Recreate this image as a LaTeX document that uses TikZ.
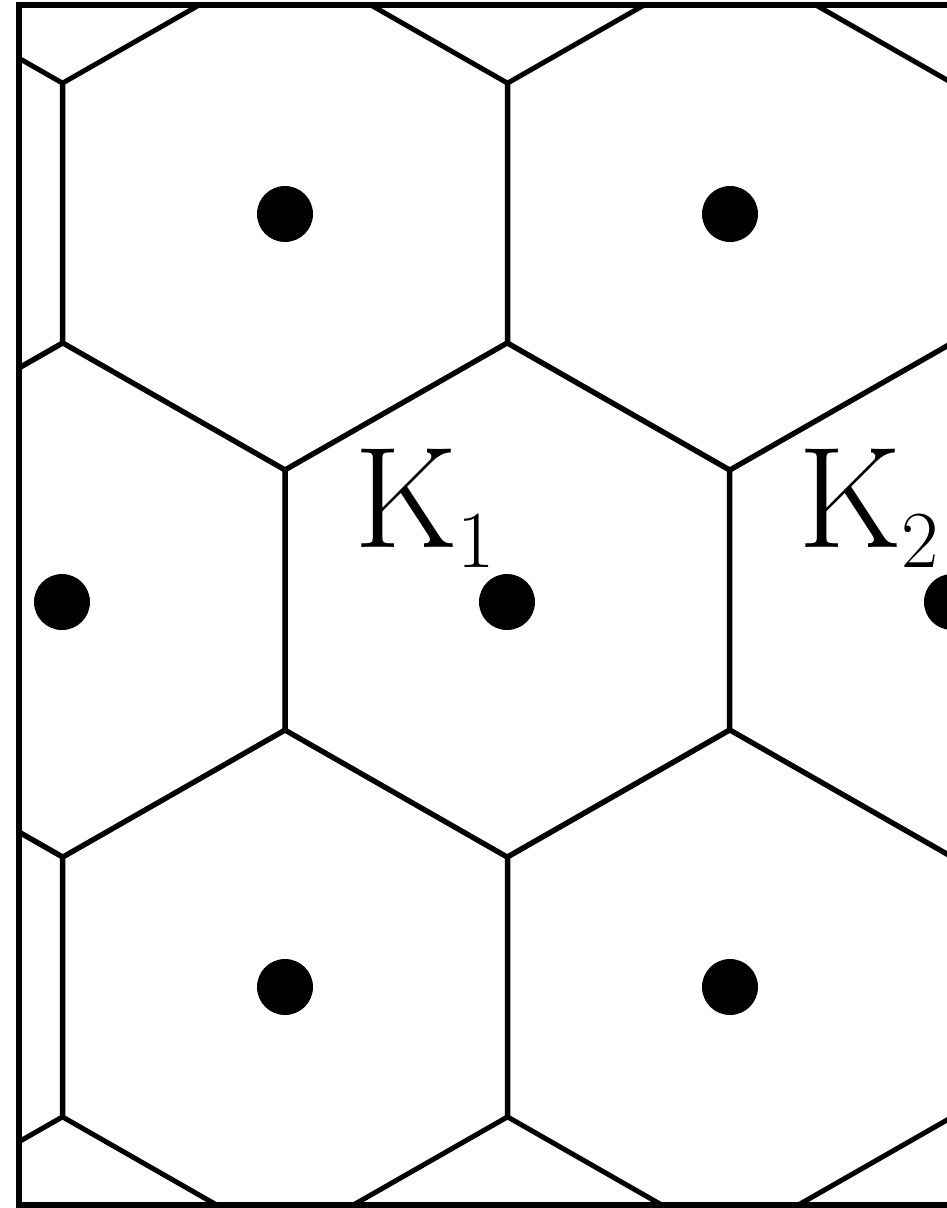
\documentclass[tikz,border=0pt]{standalone}
\begin{document}
\begin{tikzpicture}[x=1pt,y=-1pt,
  hexline/.style={line width=5pt,line join=miter},
  framebox/.style={line width=5.5pt},
  site/.style={circle,fill=black,minimum size=56pt,inner sep=0pt},
  klabel/.style={anchor=base west,inner sep=0pt,font=\fontsize{144}{160}\selectfont}]
\useasboundingbox (0,0) rectangle (947,1208);
\begin{scope}
  \clip (19,5) rectangle (980,1205);
  \foreach \cx/\cy in {-160/213,285/213,730/213,1175/213,
                       63/600,507/600,952/600,
                       -160/987,285/987,730/987,1175/987}{
    \draw[hexline] (\cx,\cy-257) -- (\cx+222.25,\cy-130) -- (\cx+222.25,\cy+130)
      -- (\cx,\cy+257) -- (\cx-222.25,\cy+130) -- (\cx-222.25,\cy-130) -- cycle;
  }
\end{scope}
\draw[framebox] (980,5) -- (19,5) -- (19,1205) -- (980,1205);
\node[site] (s1) at (285,214) {};
\node[site] (s2) at (730,214) {};
\node[site] (s3) at (62,602) {};
\node[site] (s4) at (507,602) {};
\node[site] (s5) at (952,602) {};
\node[site] (s6) at (285,987) {};
\node[site] (s7) at (730,987) {};
\node[klabel] (k1) at (354,547) {K\raisebox{-20pt}{\fontsize{81}{90}\selectfont 1}};
\node[klabel] (k2) at (798,547) {K\raisebox{-20pt}{\fontsize{81}{90}\selectfont 2}};
\end{tikzpicture}
\end{document}
